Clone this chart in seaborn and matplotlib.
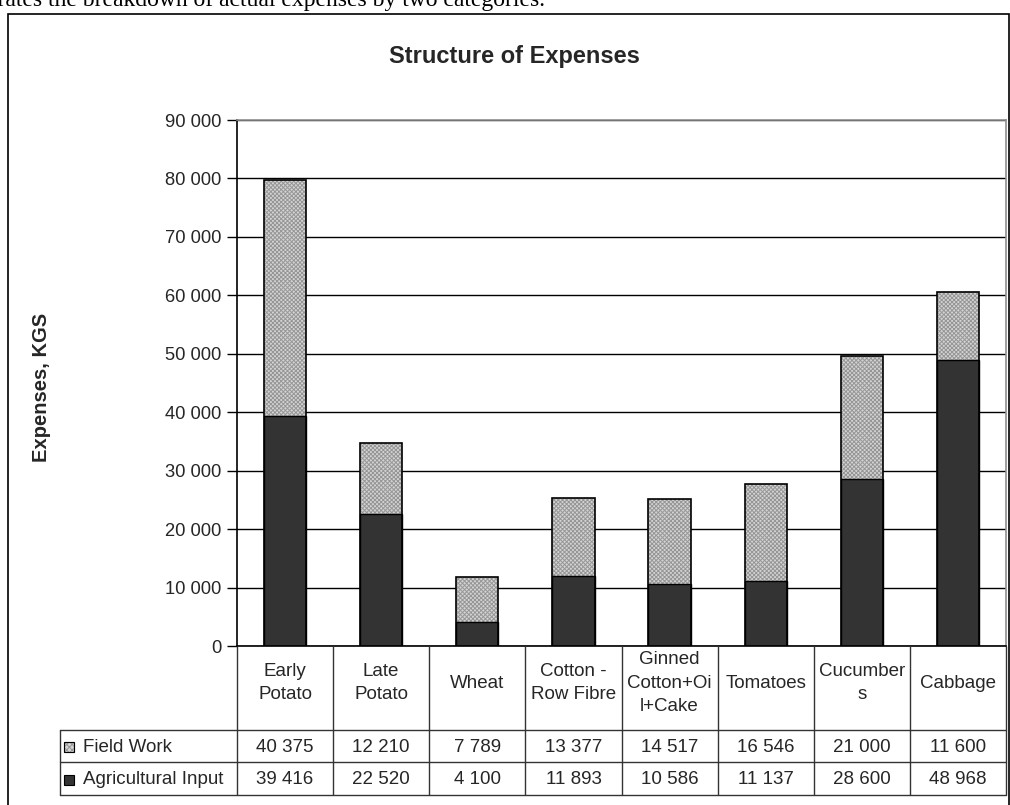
import matplotlib
matplotlib.use("Agg")
import matplotlib.pyplot as plt
from matplotlib.patches import Rectangle
from matplotlib.ticker import FuncFormatter, MultipleLocator
import seaborn as sns

# ---- data -------------------------------------------------------------
categories = ["Early\nPotato", "Late\nPotato", "Wheat", "Cotton -\nRow Fibre",
              "Ginned\nCotton+Oi\nl+Cake", "Tomatoes", "Cucumber\ns", "Cabbage"]
field_work = [40375, 12210, 7789, 13377, 14517, 16546, 21000, 11600]
agri_input = [39416, 22520, 4100, 11893, 10586, 11137, 28600, 48968]
series_names = ["Field Work", "Agricultural Input"]
title = "Structure of Expenses"
y_label = "Expenses, KGS"
intro_text = "illustrates the breakdown of actual expenses by two categories."

totals = [f + a for f, a in zip(field_work, agri_input)]

# ---- style -------------------------------------------------------------
sns.set_style("white")
plt.rcParams["font.family"] = ["Liberation Sans", "DejaVu Sans"]
plt.rcParams["hatch.linewidth"] = 0.7

W, H = 1010, 805
fig = plt.figure(figsize=(W / 100, H / 100), dpi=100)
fig.patch.set_facecolor("white")


def fx(px):
    return px / W


def fy(py):
    return 1 - py / H


def fmt(v):
    return f"{int(v):,}".replace(",", " ")


# outer frame of the chart object
fig.patches.append(Rectangle((fx(8), fy(808)), fx(1009) - fx(8), fy(14) - fy(808),
                             transform=fig.transFigure, fill=False,
                             edgecolor="black", linewidth=1.2))

# sentence of the surrounding document, running off the top edge
fig.text(fx(545), fy(6), intro_text, ha="right", va="baseline",
         fontsize=17, family=["Liberation Serif", "DejaVu Serif"], color="black")

# ---- main plot ---------------------------------------------------------
left_px, right_px, top_px, bottom_px = 237, 1006, 120, 646
ax = fig.add_axes([fx(left_px), fy(bottom_px), fx(right_px) - fx(left_px),
                   fy(top_px) - fy(bottom_px)])

bar_w = 0.44
light = "#d4d4d4"
dark = "#333333"
# Field Work sits on top of the stack, so its bar reaches the total
sns.barplot(x=categories, y=totals, color=light, width=bar_w,
            errorbar=None, ax=ax, zorder=2)
for p in ax.containers[-1]:
    p.set_hatch("xxxxxxxx")
    p.set_edgecolor("#969696")
    p.set_linewidth(0)

# Agricultural Input at the bottom
sns.barplot(x=categories, y=agri_input, color=dark, width=bar_w,
            errorbar=None, ax=ax, zorder=3)
for p in ax.containers[-1]:
    p.set_edgecolor("black")
    p.set_linewidth(1.0)

# outline of the full stack
sns.barplot(x=categories, y=totals, color="white", width=bar_w,
            errorbar=None, ax=ax, zorder=4)
for p in ax.containers[-1]:
    p.set_facecolor("none")
    p.set_edgecolor("black")
    p.set_linewidth(1.2)

ax.set_xlim(-0.5, len(categories) - 0.5)
ax.set_ylim(0, 90000)
ax.yaxis.set_major_locator(MultipleLocator(10000))
ax.yaxis.set_major_formatter(FuncFormatter(lambda v, _: fmt(v)))
ax.set_axisbelow(True)
ax.grid(axis="y", color="black", linewidth=1.0)
ax.grid(axis="x", visible=False)
ax.set_xticks([])
ax.set_xlabel("")
ax.set_ylabel("")
ax.tick_params(axis="y", direction="out", length=7, width=1, color="black",
               labelsize=13.2, pad=4, left=True)
for side, col in [("left", "black"), ("bottom", "black"),
                  ("top", "#8e8e8e"), ("right", "#8e8e8e")]:
    ax.spines[side].set_visible(True)
    ax.spines[side].set_color(col)
    ax.spines[side].set_linewidth(1.2)

fig.text(fx(514), fy(57), title, ha="center", va="center",
         fontsize=17, fontweight="bold")
fig.text(fx(42), fy(387), y_label, ha="center", va="center", rotation=90,
         fontsize=14.5, fontweight="bold")

# ---- data table --------------------------------------------------------
table_left_px, table_bottom_px = 60, 795
unit_px = (right_px - left_px) / len(categories)
legend_units = (left_px - table_left_px) / unit_px
tab = fig.add_axes([fx(table_left_px), fy(table_bottom_px),
                    fx(right_px) - fx(table_left_px),
                    fy(bottom_px) - fy(table_bottom_px)])
tab.set_xlim(-0.5 - legend_units, len(categories) - 0.5)
tab.set_ylim(149, 0)
tab.axis("off")

hdr_b, row1_b, row2_b = 84, 116, 149
lc = "#333333"
x_left_tab = -0.5 - legend_units
x_right = len(categories) - 0.5
# vertical separators
for i in range(len(categories) + 1):
    tab.plot([i - 0.5, i - 0.5], [0, row2_b], color=lc, lw=1.0,
             clip_on=False, solid_capstyle="butt")
tab.plot([x_left_tab, x_left_tab], [hdr_b, row2_b], color=lc, lw=1.0, clip_on=False)
# horizontal separators
for yy in (hdr_b, row1_b, row2_b):
    tab.plot([x_left_tab, x_right], [yy, yy], color=lc, lw=1.0, clip_on=False)

fs = 13.5
for i, cat in enumerate(categories):
    tab.text(i, hdr_b / 2 - 5, cat, ha="center", va="center", fontsize=fs,
             linespacing=1.5)
    tab.text(i, (hdr_b + row1_b) / 2 + 1, fmt(field_work[i]),
             ha="center", va="center", fontsize=fs)
    tab.text(i, (row1_b + row2_b) / 2 + 1, fmt(agri_input[i]),
             ha="center", va="center", fontsize=fs)

# legend keys inside the table
key_w = 10 / unit_px
key_x = x_left_tab + 4 / unit_px
for (y0, y1), name, face, hatch in [((hdr_b, row1_b), series_names[0], light, "xxxxxx"),
                                    ((row1_b, row2_b), series_names[1], dark, None)]:
    yc = (y0 + y1) / 2 + 1
    key = Rectangle((key_x, yc - 5), key_w, 10, facecolor=face,
                    edgecolor="#969696" if hatch else "black", linewidth=0.8,
                    hatch=hatch, clip_on=False)
    tab.add_patch(key)
    if hatch:
        tab.add_patch(Rectangle((key_x, yc - 5), key_w, 10, facecolor="none",
                                edgecolor="black", linewidth=0.8, clip_on=False))
    tab.text(x_left_tab + 23 / unit_px, yc, name, ha="left", va="center", fontsize=fs)

fig.savefig("out.png", dpi=100, facecolor="white")
